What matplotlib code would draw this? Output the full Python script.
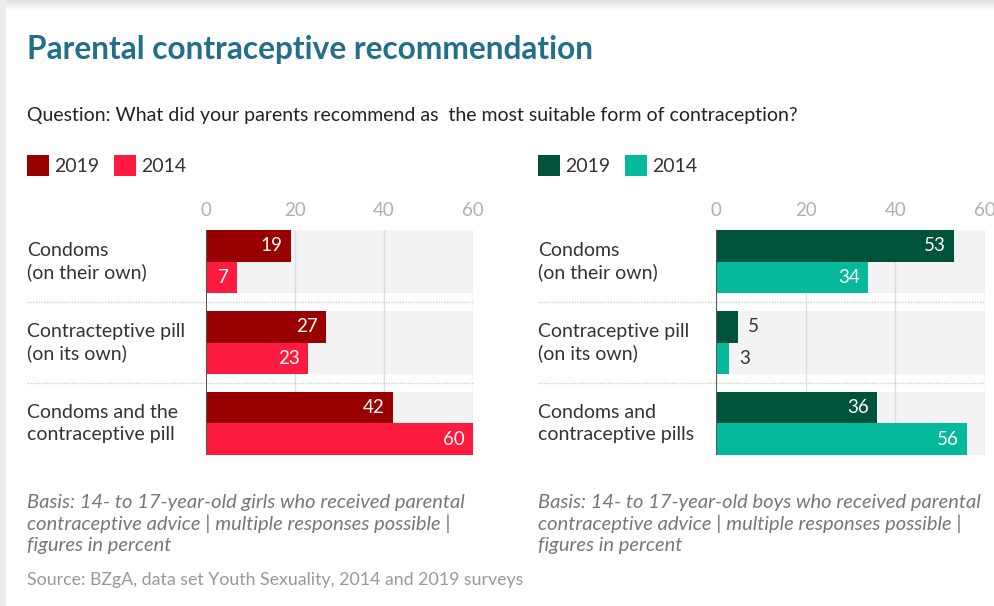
import matplotlib.pyplot as plt
import numpy as np
from matplotlib.patches import Rectangle

plt.rcParams['font.family'] = ['Lato', 'DejaVu Sans']

W, H = 995, 606

categories_girls = ['Condoms\n(on their own)', 'Contracteptive pill\n(on its own)',
                    'Condoms and the\ncontraceptive pill']
categories_boys = ['Condoms\n(on their own)', 'Contraceptive pill\n(on its own)',
                   'Condoms and\ncontraceptive pills']
girls_2019 = [19, 27, 42]
girls_2014 = [7, 23, 60]
boys_2019 = [53, 5, 36]
boys_2014 = [34, 3, 56]
years = ['2019', '2014']
ticks = [0, 20, 40, 60]

red_dark, red_light = '#990000', '#ff1a40'
green_dark, green_light = '#00533b', '#06b99a'

fig = plt.figure(figsize=(W / 100, H / 100), dpi=100)

# full-figure canvas in pixel units for text and decorations
bg = fig.add_axes([0, 0, 1, 1])
bg.set_xlim(0, W)
bg.set_ylim(H, 0)
bg.axis('off')

# card shadow along top and left edge
grad = np.linspace(0.88, 1.0, 12).reshape(-1, 1)
bg.imshow(np.dstack([grad] * 3), extent=(0, W, 11, 0), aspect='auto', zorder=0)
bg.add_patch(Rectangle((0, 0), 6, H, color='#ececec', lw=0, zorder=0))

bg.text(27, 50, 'Parental contraceptive recommendation', fontsize=22.8,
        fontweight='bold', color='#236e8a', va='center', ha='left')
bg.text(27, 115, 'Question: What did your parents recommend as  the most suitable form of contraception?',
        fontsize=14, color='#222222', va='center', ha='left')

basis = ('Basis: 14- to 17-year-old {} who received parental\n'
         'contraceptive advice | multiple responses possible |\nfigures in percent')


def legend(x0, colors):
    x = x0
    for col, yr in zip(colors, years):
        bg.add_patch(Rectangle((x, 155), 22, 21, color=col, lw=0))
        bg.text(x + 27, 166, yr, fontsize=14, color='#333333', va='center', ha='left')
        x += 87


def panel(left, right, cats, v19, v14, colors, label_x):
    ax = fig.add_axes([left / W, 1 - 455 / H, (right - left) / W, 225 / H])
    y = np.arange(len(cats))
    h = 0.39
    for yi in y:
        ax.axhspan(yi - h, yi + h, color='#f3f3f3', lw=0, zorder=0)
    for t in ticks[1:]:
        ax.axvline(t, color='#dedede', lw=1, zorder=1)
    lx = (label_x - left) / (right - left)
    for sep in y[:-1] + 0.5:
        ax.plot([lx, 1], [sep, sep], transform=ax.get_yaxis_transform(),
                color='#cccccc', lw=1, ls=(0, (1, 1)), clip_on=False, zorder=1)
    for vals, col, off in [(v19, colors[0], -h / 2), (v14, colors[1], h / 2)]:
        bars = ax.barh(y + off, vals, height=h, color=col, zorder=2)
        for b, v in zip(bars, vals):
            yc = b.get_y() + b.get_height() / 2
            if v > 6:
                ax.annotate(f'{v}', (v, yc), xytext=(-6, 0), textcoords='offset points',
                            ha='right', va='center', color='white', fontsize=13.5, zorder=3)
            else:
                ax.annotate(f'{v}', (v, yc), xytext=(7, 0), textcoords='offset points',
                            ha='left', va='center', color='#333333', fontsize=13.5, zorder=3)
    ax.axvline(0, color='#555555', lw=1.5, zorder=3)
    ax.set_xlim(0, 60)
    ax.set_ylim(len(cats) - 1 + h, -h)
    ax.xaxis.tick_top()
    ax.set_xticks(ticks)
    ax.tick_params(axis='x', length=0, pad=8, labelsize=13.5, labelcolor='#b0b0b0')
    ax.set_yticks([])
    for s in ax.spines.values():
        s.set_visible(False)
    ax.set_facecolor('none')
    for yi, c in zip(y, cats):
        ax.text(lx, yi, c, transform=ax.get_yaxis_transform(), fontsize=14,
                color='#333333', va='center', ha='left', linespacing=1.32)
    return ax


panel(206, 473, categories_girls, girls_2019, girls_2014, (red_dark, red_light), 27)
panel(716, 985, categories_boys, boys_2019, boys_2014, (green_dark, green_light), 538)

legend(27, (red_dark, red_light))
legend(538, (green_dark, green_light))

bg.text(27, 524, basis.format('girls'), fontsize=14.5, style='italic', color='#777777',
        va='center', ha='left', linespacing=1.25)
bg.text(538, 524, basis.format('boys'), fontsize=14.5, style='italic', color='#777777',
        va='center', ha='left', linespacing=1.25)
bg.text(27, 580, 'Source: BZgA, data set Youth Sexuality, 2014 and 2019 surveys',
        fontsize=12.8, color='#999999', va='center', ha='left')

fig.savefig('out.png', dpi=100)
